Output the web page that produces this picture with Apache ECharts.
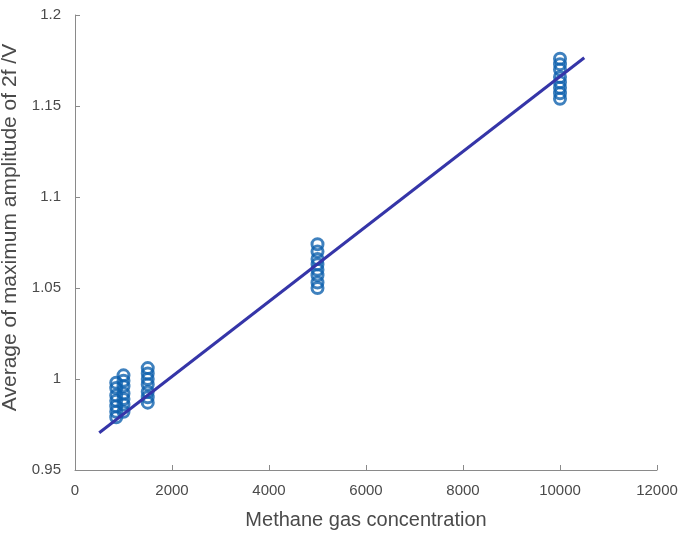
<!DOCTYPE html>
<html><head><meta charset="utf-8">
<script src="https://cdn.jsdelivr.net/npm/echarts@6/dist/echarts.min.js"></script>
<style>html,body{margin:0;padding:0;background:#fff}#c{width:680px;height:533px}</style>
</head><body><div id="c"></div>
<script>
const xLabel = 'Methane gas concentration';
const yLabel = 'Average of maximum amplitude of 2f /V';
const conc850 = [0.998, 0.995, 0.991, 0.988, 0.985, 0.982, 0.979];
const conc1000 = [1.002, 0.999, 0.996, 0.992, 0.989, 0.986, 0.982];
const conc1500 = [1.006, 1.003, 1.000, 0.997, 0.993, 0.990, 0.987];
const conc5000 = [1.074, 1.070, 1.066, 1.063, 1.060, 1.057, 1.053, 1.050];
const conc10000 = [1.176, 1.173, 1.170, 1.166, 1.163, 1.160, 1.157, 1.154];
const concentrations = [850, 1000, 1500, 5000, 10000];
const groups = [conc850, conc1000, conc1500, conc5000, conc10000];
const fitX = [500, 10500];
const fitY = [0.9705, 1.1765];

const scatterData = [];
groups.forEach((g, i) => g.forEach(v => scatterData.push([concentrations[i], v])));
const fitData = fitX.map((x, i) => [x, fitY[i]]);

const font = '"Liberation Sans", Arial, sans-serif';
const axisCommon = {
  axisLine: {show: true, lineStyle: {color: '#8a8a8a', width: 1}},
  axisTick: {show: true, inside: true, length: 5, lineStyle: {color: '#8a8a8a'}},
  splitLine: {show: false},
  axisLabel: {color: '#4a4a4a', fontSize: 15, fontFamily: font},
  nameLocation: 'middle'
};
const chart = echarts.init(document.getElementById('c'));
chart.setOption({
  animation: false,
  grid: {left: 75, right: 23, top: 15, bottom: 63, containLabel: false, outerBoundsMode: 'none'},
  xAxis: Object.assign({}, axisCommon, {
    type: 'value', min: 0, max: 12000, interval: 2000,
    name: xLabel, nameGap: 40,
    nameTextStyle: {color: '#4a4a4a', fontSize: 20, fontFamily: font},
    axisLabel: Object.assign({}, axisCommon.axisLabel, {margin: 13, formatter: v => String(v)})
  }),
  yAxis: Object.assign({}, axisCommon, {
    type: 'value', min: 0.95, max: 1.2, interval: 0.05,
    name: yLabel, nameGap: 47,
    nameTextStyle: {color: '#4a4a4a', fontSize: 21, fontFamily: font, padding: [0, 0, 0, 30]},
    axisLabel: Object.assign({}, axisCommon.axisLabel, {margin: 14,
      formatter: v => String(parseFloat(v.toFixed(2)))})
  }),
  series: [
    {type: 'line', data: fitData, symbol: 'none', z: 3,
     lineStyle: {color: '#3535a8', width: 3}},
    {type: 'scatter', data: scatterData, symbol: 'circle', symbolSize: 11, z: 2,
     itemStyle: {color: 'rgba(0,0,0,0)', borderColor: '#0f62ae', borderWidth: 3}}
  ]
});
</script></body></html>
